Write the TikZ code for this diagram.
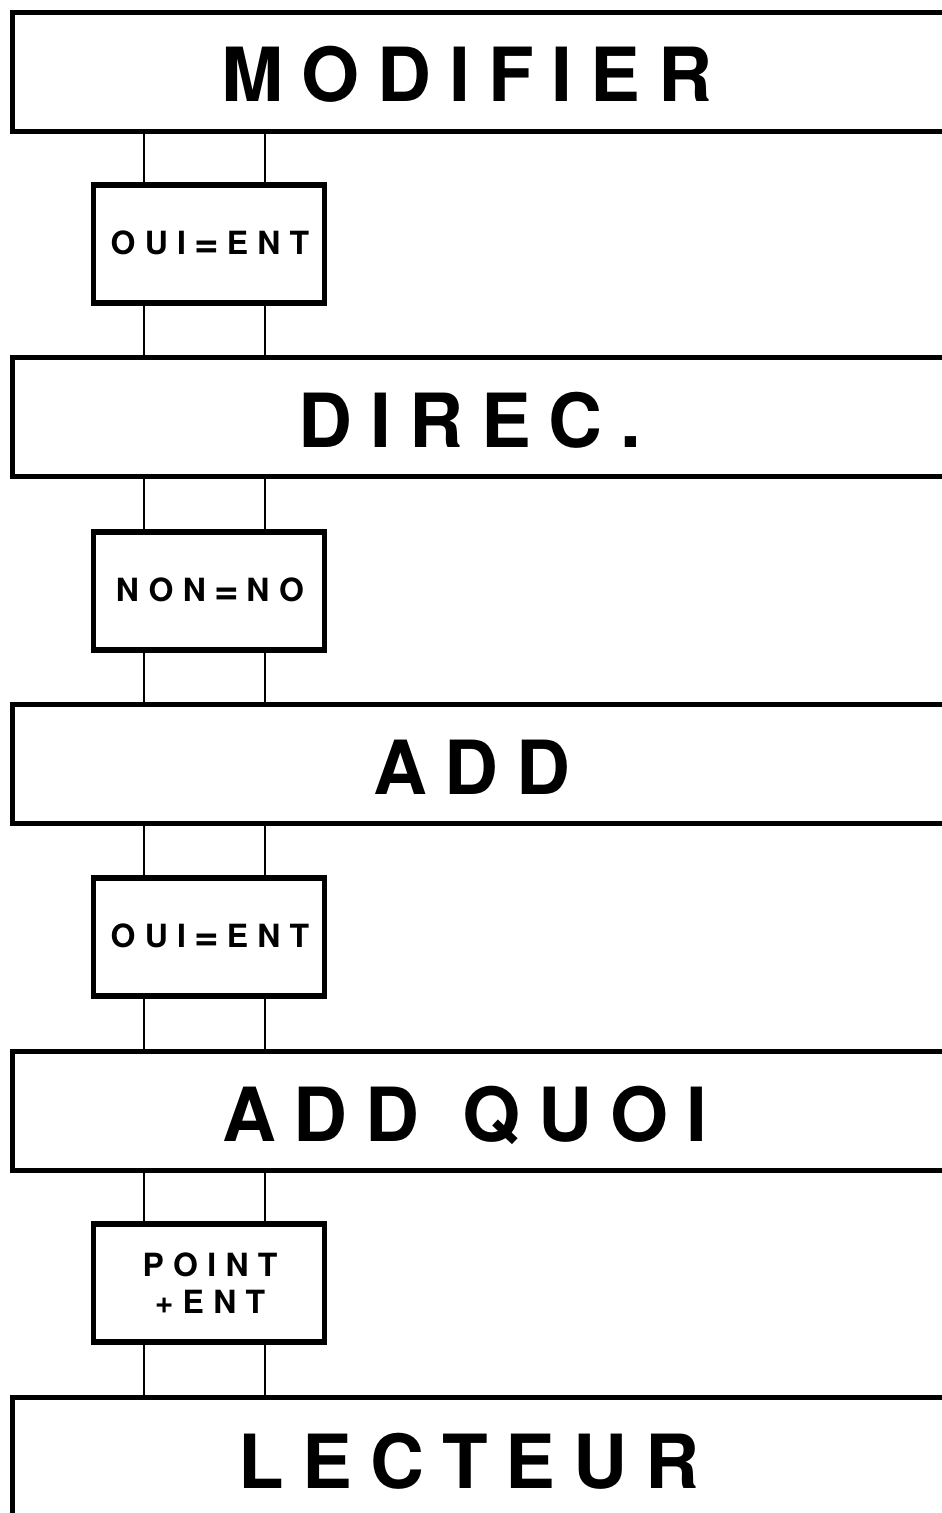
\documentclass[tikz,border=0pt]{standalone}
\usepackage{fontspec}
\usepackage{tikz}
\usetikzlibrary{positioning, calc}
\newfontfamily\headfont{TeX Gyre Heros}[LetterSpace=24]
\newfontfamily\keyfont{TeX Gyre Heros}[LetterSpace=29]
\newcommand{\keyeq}{\hspace{0.17cm}\raisebox{-1.5pt}{\fontsize{24}{21}\selectfont=}\hspace{0.15cm}}

\begin{document}
\begin{tikzpicture}[
                x=0.02cm, y=-0.02cm,
                menu_box/.style={rectangle, draw=black, line width=3pt, minimum width=18.95cm, minimum height=2.38cm, inner sep=0pt},
                key_box/.style={rectangle, draw=black, line width=3.1pt, minimum width=4.62cm, minimum height=2.36cm, inner sep=0pt},
                menu_text/.style={anchor=base, inner sep=0pt, font=\headfont\bfseries\fontsize{42.5}{43}\selectfont},
                key_text/.style={inner sep=0pt, align=center, font=\keyfont\bfseries\fontsize{18.2}{21}\selectfont},
                rail/.style={line width=0.8pt, black}
            ]
                \useasboundingbox (0,0) rectangle (941,1513);
                \coordinate (railL) at (144,0);
                \coordinate (railR) at (265,0);

                % Menu screens
                \node[menu_box] (modifier) at (486,72) {};
                \node[menu_box] (direc) at (486,417) {};
                \node[menu_box] (add) at (486,764) {};
                \node[menu_box] (addquoi) at (486,1111) {};
                \node[menu_box] (lecteur) at (486,1457) {};
                \node[menu_text] (modifierT) at (467,102) {MODIFIER};
                \node[menu_text] (direcT) at (470,447) {DIREC.};
                \node[menu_text] (addT) at (472,794) {ADD};
                \node[menu_text] (addquoiT) at (321,1141) {ADD};
                \node[menu_text] (addquoiT2) at (585,1141) {QUOI};
                \node[menu_text] (lecteurT) at (469,1488) {LECTEUR};

                % Keys pressed
                \node[key_box] (key1) at (209,244) {};
                \node[key_box] (key2) at (209,591) {};
                \node[key_box] (key3) at (209,937) {};
                \node[key_box] (key4) at (209,1283) {};
                \node[key_text] (key1T) at (210,244) {OUI\keyeq ENT};
                \node[key_text] (key2T) at (210,591) {NON\keyeq NO};
                \node[key_text] (key3T) at (210,937) {OUI\keyeq ENT};
                \node[key_text] (key4T) at (210,1283) {POINT\\+ENT};

                % Rails between screens and keys
                \foreach \top/\key/\next in {modifier/key1/direc, direc/key2/add, add/key3/addquoi, addquoi/key4/lecteur} {
                    \draw[rail] (railL |- \top.south) -- (railL |- \key.north);
                    \draw[rail] (railR |- \top.south) -- (railR |- \key.north);
                    \draw[rail] (railL |- \key.south) -- (railL |- \next.north);
                    \draw[rail] (railR |- \key.south) -- (railR |- \next.north);
                }

            \end{tikzpicture}
\end{document}
